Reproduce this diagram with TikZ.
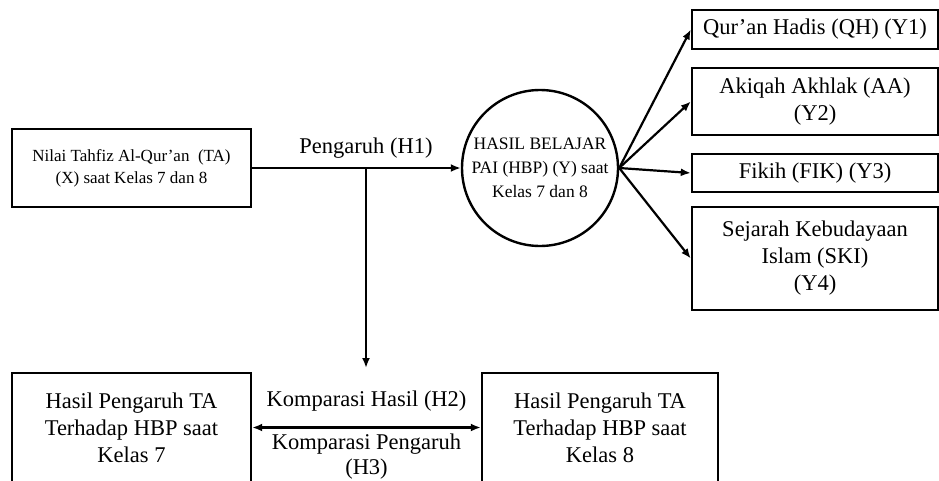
\documentclass[tikz,border=0pt]{standalone}
\usepackage{fontspec}
\setmainfont{Liberation Serif}
\usetikzlibrary{positioning}
\usetikzlibrary{arrows.meta}
\tikzset{
	boxstyle/.style={rectangle,draw=black,line width=2.4pt,align=center,inner sep=0pt,font=\fontsize{22.5}{27}\selectfont},
	circlestyle/.style={circle,draw=black,line width=2.4pt,align=center,inner sep=-6pt,minimum size=156pt,font=\fontsize{17.5}{24}\selectfont},
	labelstyle/.style={align=center,font=\fontsize{22.5}{25}\selectfont},
	arrowstyle/.style={-{Latex[length=10pt,width=8pt]},line width=2.2pt}
}
\begin{document}
\begin{tikzpicture}[x=1pt,y=-1pt]
		\useasboundingbox (0,0) rectangle (939,480);
		\node[boxstyle,minimum width=239pt,minimum height=78pt,font=\fontsize{17}{22}\selectfont] (tahfiz) at (131.5,168) {Nilai Tahfiz Al-Qur’an\ \ (TA)\\(X) saat Kelas 7 dan 8};
		\node[circlestyle] (hbp) at (540,168) {HASIL BELAJAR\\PAI (HBP) (Y) saat\\Kelas 7 dan 8};
		\node[boxstyle,minimum width=246pt,minimum height=39pt] (qh) at (815,29.5) {Qur’an Hadis (QH) (Y1)};
		\node[boxstyle,minimum width=246pt,minimum height=67pt] (aa) at (815,101.5) {Akiqah Akhlak (AA)\\(Y2)};
		\node[boxstyle,minimum width=246pt,minimum height=38pt] (fik) at (815,173) {Fikih (FIK) (Y3)};
		\node[boxstyle,minimum width=246pt,minimum height=103pt] (ski) at (815,258.5) {Sejarah Kebudayaan\\Islam (SKI)\\(Y4)};
		\node[boxstyle,minimum width=239pt,minimum height=109pt] (kelas7) at (131.5,427.5) {Hasil Pengaruh TA\\Terhadap HBP saat\\Kelas 7};
		\node[boxstyle,minimum width=236pt,minimum height=109pt] (kelas8) at (600,427.5) {Hasil Pengaruh TA\\Terhadap HBP saat\\Kelas 8};
		\coordinate (split) at (366,168);
		\coordinate (drop) at (366,368);
		\node[labelstyle,above=6pt of split] (lblh1) {Pengaruh (H1)};
		\draw[arrowstyle] (tahfiz)--(hbp);
		\draw[arrowstyle] (split)--(drop);
		\draw[arrowstyle] (hbp.east)--(qh.west);
		\draw[arrowstyle] (hbp.east)--(aa.west);
		\draw[arrowstyle] (hbp.east)--(fik.west);
		\draw[arrowstyle] (hbp.east)--(ski.west);
		\draw[arrowstyle,{Latex[length=10pt,width=8pt]}-{Latex[length=10pt,width=8pt]}] (kelas7)--(kelas8)
			node[labelstyle,midway,above=12pt] (lblh2) {Komparasi Hasil (H2)}
			node[labelstyle,midway,below=2pt] (lblh3) {Komparasi Pengaruh\\(H3)};
		\end{tikzpicture}
\end{document}
